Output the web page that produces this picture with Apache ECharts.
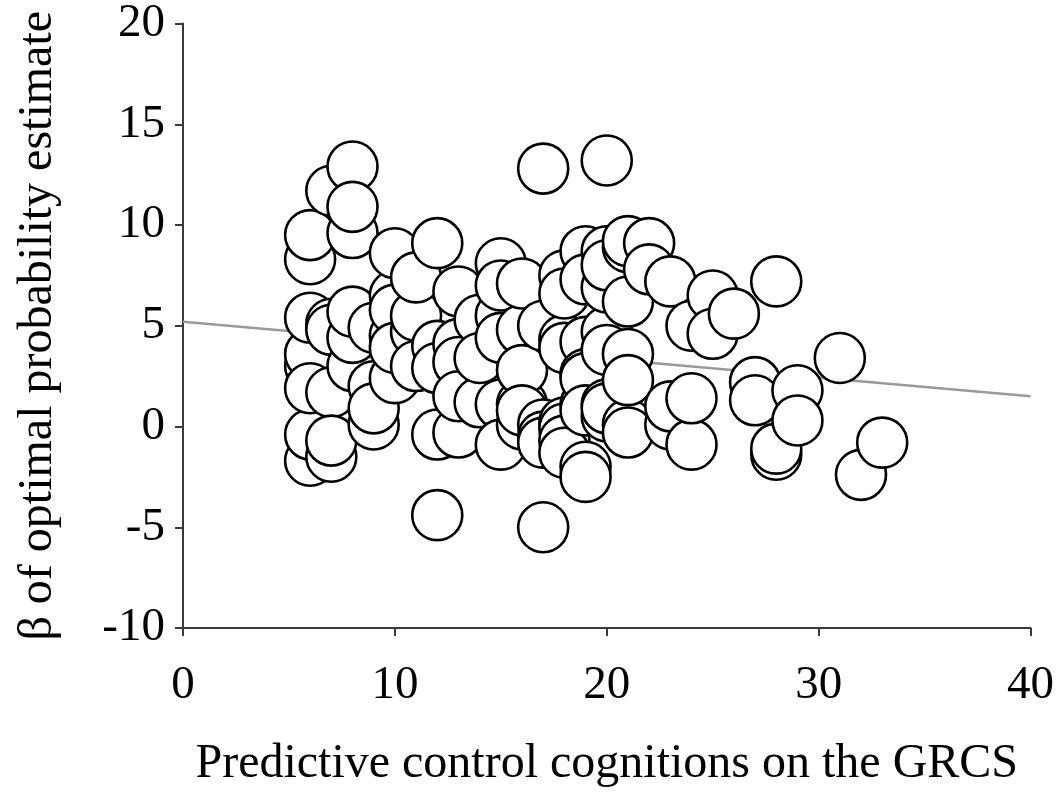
<!DOCTYPE html>
<html>
<head>
<meta charset="utf-8">
<script src="https://cdn.jsdelivr.net/npm/echarts@6/dist/echarts.min.js"></script>
<style>
html,body{margin:0;padding:0;background:#fff;}
#chart{width:1057px;height:793px;}
</style>
</head>
<body>
<div id="chart"></div>
<script>
// Scatter values: [GRCS predictive control, beta]
var pointsX = [6,6,6,6,6,6,6,6, 7,7,7,7,7,7, 8,8,8,8,8,8, 9,9,9,9, 10,10,10,10,10,10, 11,11,11,11, 12,12,12,12,12, 13,13,13,13,13, 14,14,14, 15,15,15,15,15,15, 16,16,16,16,16,16, 17,17,17,17,17,17, 18,18,18,18,18,18,18,18, 19,19,19,19,19,19,19,19,19, 20,20,20,20,20,20,20,20,20, 21,21,21,21,21,21,21, 22,22, 23,23,23, 24,24,24, 25,25, 26, 27,27, 28,28,28, 29,29, 31, 32, 33];
var pointsY = [3.0,3.6,8.3,9.5,5.4,-1.7,-0.4,1.9, 5.1,1.7,-1.5,11.7,4.8,-0.7, 3.0,9.6,12.9,4.4,10.9,5.7, 2.0,4.9,0.1,0.9, 4.5,6.5,8.6,5.8,2.4,3.9, 4.7,3.0,5.5,7.4, 4.0,2.9,9.1,-0.4,-4.4, 4.1,6.7,3.2,-0.3,1.5, 1.2,5.3,3.4, 5.5,8.1,1.1,4.4,-0.9,7.0, 4.8,0.1,1.1,7.1,2.8,0.8, 5.0,0.1,-0.5,12.8,-0.8,-5.0, 7.5,0.2,4.3,-0.1,-0.7,6.6,-1.3,3.9, 8.7,4.2,2.6,-2.0,1.1,7.3,2.4,0.8,-2.5, 4.7,0.5,8.7,1.1,6.9,3.8,0.9,13.2,8.0, 8.9,0.1,6.2,3.6,-0.3,2.3,9.2, 9.1,7.8, 0.1,7.2,1.0, 5.0,-0.9,1.4, 6.5,4.6, 5.6, 2.2,1.3, 7.2,-1.4,-1.1, 1.8,0.3, 3.4, -2.4, -0.8];
// Fitted regression line endpoints
var fitX = [0, 40];
var fitY = [5.2, 1.5];
var xTicks = [0, 10, 20, 30, 40];
var yTicks = [-10, -5, 0, 5, 10, 15, 20];

var scatterData = pointsX.map(function(x, i){ return [x, pointsY[i]]; });
var fitData = fitX.map(function(x, i){ return [x, fitY[i]]; });

var font = 'Liberation Serif';
var chart = echarts.init(document.getElementById('chart'), null, {renderer:'canvas'});
chart.setOption({
  animation: false,
  backgroundColor: '#ffffff',
  grid: {left: 183, right: 26, top: 22, bottom: 161, containLabel: false},
  xAxis: {
    type: 'value', min: xTicks[0], max: xTicks[xTicks.length-1], interval: 10,
    name: 'Predictive control cognitions on the GRCS',
    nameLocation: 'middle', nameGap: 112,
    nameTextStyle: {fontFamily: font, fontSize: 48, color: '#000'},
    axisLine: {show: true, onZero: false, lineStyle: {color: '#3a3a3a', width: 2}},
    axisTick: {show: true, inside: false, length: 8, lineStyle: {color: '#3a3a3a', width: 2}},
    axisLabel: {fontFamily: font, fontSize: 47, color: '#000', margin: 34},
    splitLine: {show: false}
  },
  yAxis: {
    type: 'value', min: yTicks[0], max: yTicks[yTicks.length-1], interval: 5,
    name: '\u03B2 of optimal probability estimate',
    nameLocation: 'middle', nameGap: 121,
    nameTextStyle: {fontFamily: font, fontSize: 48, color: '#000'},
    axisLine: {show: true, onZero: false, lineStyle: {color: '#3a3a3a', width: 2}},
    axisTick: {show: true, inside: false, length: 8, lineStyle: {color: '#3a3a3a', width: 2}},
    axisLabel: {fontFamily: font, fontSize: 47, color: '#000', margin: 18},
    splitLine: {show: false}
  },
  series: [
    {
      type: 'line', data: fitData, symbol: 'none', z: 1,
      lineStyle: {color: '#9a9a9a', width: 2.5}
    },
    {
      type: 'scatter', data: scatterData, symbol: 'circle', symbolSize: 50, z: 2,
      itemStyle: {color: '#ffffff', borderColor: '#000000', borderWidth: 2.6, opacity: 1}
    }
  ]
});
</script>
</body>
</html>
